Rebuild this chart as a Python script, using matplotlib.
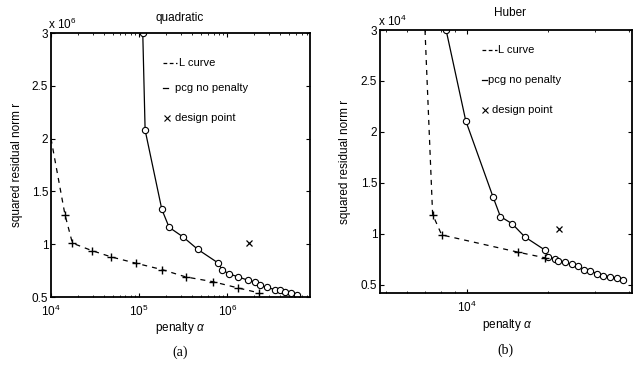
import matplotlib
matplotlib.use("Agg")
import matplotlib.pyplot as plt
from matplotlib.ticker import FixedLocator, FixedFormatter, LogLocator, NullFormatter

plt.rcParams['font.family'] = ['Liberation Sans', 'DejaVu Sans']
plt.rcParams['mathtext.fontset'] = 'custom'
plt.rcParams['mathtext.rm'] = 'Liberation Sans'
plt.rcParams['mathtext.it'] = 'Liberation Sans:italic'

# ---- data: panel (a) quadratic ----
a_pcg_x = [1.10e5, 1.17e5, 1.81e5, 2.19e5, 3.14e5, 4.65e5, 7.96e5, 8.69e5, 1.04e6, 1.34e6,
           1.70e6, 2.08e6, 2.37e6, 2.82e6, 3.51e6, 4.0e6, 4.56e6, 5.3e6, 6.2e6]
a_pcg_y = [3.0, 2.08, 1.33, 1.16, 1.07, 0.95, 0.82, 0.76, 0.72, 0.69,
           0.66, 0.64, 0.61, 0.59, 0.57, 0.565, 0.55, 0.54, 0.52]
a_L_x = [1.0e4, 1.44e4, 1.75e4, 2.9e4, 4.8e4, 9.2e4, 1.81e5, 3.39e5, 6.87e5, 1.34e6, 2.27e6]
a_L_y = [2.0, 1.28, 1.01, 0.94, 0.88, 0.82, 0.76, 0.69, 0.645, 0.585, 0.54]
a_design = (1.75e6, 1.01)

# ---- data: panel (b) Huber ----
b_pcg_x = [8.36e3, 9.89e3, 1.25e4, 1.33e4, 1.47e4, 1.64e4, 1.95e4, 2.0e4, 2.12e4, 2.18e4,
           2.31e4, 2.45e4, 2.59e4, 2.72e4, 2.86e4, 3.03e4, 3.21e4, 3.40e4, 3.61e4, 3.79e4]
b_pcg_y = [3.0, 2.11, 1.36, 1.17, 1.10, 0.97, 0.84, 0.775, 0.755, 0.735,
           0.72, 0.70, 0.68, 0.65, 0.64, 0.61, 0.59, 0.58, 0.565, 0.55]
b_L_x = [6.98e3, 7.45e3, 8.05e3, 1.55e4, 1.95e4]
b_L_y = [3.0, 1.19, 0.99, 0.82, 0.765]
b_design = (2.2e4, 1.05)

yticks = [0.5, 1, 1.5, 2, 2.5, 3]
yticklabels = ['0.5', '1', '1.5', '2', '2.5', '3']
a_xticks = [1e4, 1e5, 1e6]
a_xticklabels = [r'$10^4$', r'$10^5$', r'$10^6$']
b_xticks = [1e4]
b_xticklabels = [r'$10^4$']

W, H = 640, 371
fig = plt.figure(figsize=(6.4, 3.71), dpi=100)

def make_axes(l, t, r, b):
    return fig.add_axes([l / W, 1 - b / H, (r - l) / W, (b - t) / H])

axA = make_axes(51, 33, 310, 297)
axB = make_axes(380, 30, 632, 293)

def style(ax, xlim, ylim, xticks, xlabels):
    ax.set_xscale('log')
    ax.set_xlim(*xlim)
    ax.set_ylim(*ylim)
    ax.xaxis.set_major_locator(FixedLocator(xticks))
    ax.xaxis.set_major_formatter(FixedFormatter(xlabels))
    ax.xaxis.set_minor_locator(LogLocator(base=10, subs=range(2, 10)))
    ax.xaxis.set_minor_formatter(NullFormatter())
    ax.set_yticks(yticks)
    ax.set_yticklabels(yticklabels)
    ax.tick_params(direction='in', which='major', length=3, width=0.8, labelsize=8.5,
                   top=True, right=True)
    ax.tick_params(axis='y', pad=2)
    ax.tick_params(axis='x', pad=5)
    ax.tick_params(direction='in', which='minor', length=1.5, width=0.6, top=True)
    for s in ax.spines.values():
        s.set_linewidth(1.3)

def draw(ax, pcg_x, pcg_y, L_x, L_y, design, Lmark):
    ax.plot(pcg_x, pcg_y, '-', color='black', lw=0.9, marker='o', ms=4.5,
            mfc='white', mec='black', mew=0.8)
    ax.plot(L_x, L_y, '--', color='black', lw=0.9, dashes=(4, 4), marker='+', ms=6,
            mew=1.0, markevery=Lmark)
    ax.plot([design[0]], [design[1]], 'x', color='black', ms=5, mew=0.9)

draw(axA, a_pcg_x, a_pcg_y, a_L_x, a_L_y, a_design, slice(1, None))
draw(axB, b_pcg_x, b_pcg_y, b_L_x, b_L_y, b_design, slice(1, None))

style(axA, (1e4, 8.7e6), (0.5, 3.0), a_xticks, a_xticklabels)
style(axB, (4.75e3, 4.1e4), (0.42, 3.0), b_xticks, b_xticklabels)

# legends drawn manually (axes-fraction coordinates)
def legend(ax, Lseg, Ltxt, Ly, Pseg, Ptxt, Py, Dx, Dtxt, Dy):
    ax.plot(Lseg, [Ly, Ly], '--', color='black', lw=0.9, dashes=(3, 2), transform=ax.transAxes)
    ax.text(Ltxt, Ly, 'L curve', transform=ax.transAxes, fontsize=8, va='center')
    ax.plot(Pseg, [Py, Py], '-', color='black', lw=0.9, transform=ax.transAxes)
    ax.text(Ptxt, Py, 'pcg no penalty', transform=ax.transAxes, fontsize=8, va='center')
    ax.plot([Dx], [Dy], 'x', color='black', ms=4, mew=0.8, transform=ax.transAxes)
    ax.text(Dtxt, Dy, 'design point', transform=ax.transAxes, fontsize=8, va='center')

legend(axA, [0.432, 0.486], 0.494, 0.886, [0.432, 0.452], 0.479, 0.792, 0.448, 0.479, 0.678)
legend(axB, [0.405, 0.464], 0.47, 0.924, [0.405, 0.425], 0.43, 0.81, 0.417, 0.444, 0.696)

# titles, labels, exponents
fig.text(180 / W, 1 - 18 / H, 'quadratic', ha='center', va='center', fontsize=8.5)
fig.text(510 / W, 1 - 13 / H, 'Huber', ha='center', va='center', fontsize=8.5)
fig.text(48 / W, 1 - 24 / H, r'x $10^6$', ha='left', va='center', fontsize=8.5)
fig.text(378 / W, 1 - 21 / H, r'x $10^4$', ha='left', va='center', fontsize=8.5)
fig.text(180 / W, 1 - 328 / H, r'penalty $\alpha$', ha='center', va='center', fontsize=8.5)
fig.text(507 / W, 1 - 325 / H, r'penalty $\alpha$', ha='center', va='center', fontsize=8.5)
fig.text(17 / W, 1 - 165 / H, 'squared residual norm r', ha='center', va='center',
         rotation=90, fontsize=8.5)
fig.text(345 / W, 1 - 162 / H, 'squared residual norm r', ha='center', va='center',
         rotation=90, fontsize=8.5)
fig.text(180 / W, 1 - 352 / H, '(a)', ha='center', va='center', fontsize=10, family='Liberation Serif')
fig.text(505 / W, 1 - 350 / H, '(b)', ha='center', va='center', fontsize=10, family='Liberation Serif')

fig.savefig('out.png', dpi=100)
